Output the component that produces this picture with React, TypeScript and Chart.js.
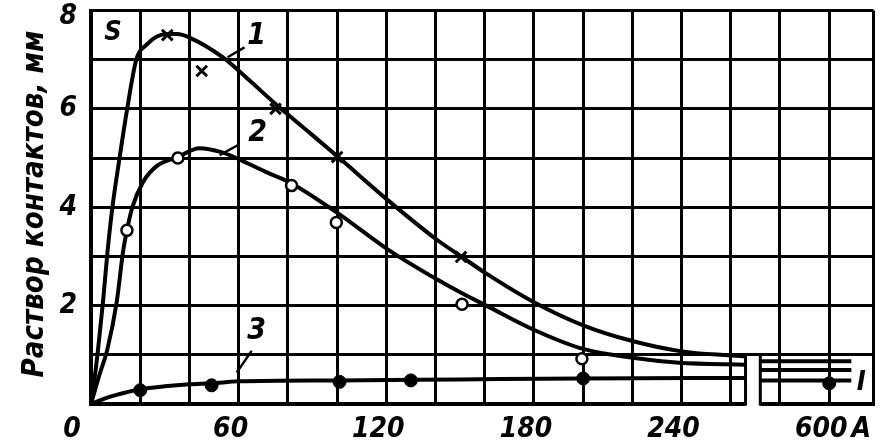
import React, { useEffect, useRef } from "react";
import { Chart, registerables } from "chart.js";

Chart.register(...registerables);

// ---- data (current in A, contact gap in mm) ----
const curve1A = [0, 1.2, 2.8, 4.9, 6.7, 8.7, 11.6, 14.7, 18.4, 22.7, 26.8, 31, 35, 40, 53.5, 65, 75, 88, 100, 120, 140, 150.4, 161, 180, 200, 220, 240, 259, 266, 572, 609];
const curve1Mm = [0, 0.42, 1.08, 2.09, 3.09, 4.0, 5.0, 6.0, 7.0, 7.31, 7.47, 7.52, 7.52, 7.45, 7.05, 6.55, 6.1, 5.55, 5.04, 4.17, 3.36, 3.0, 2.64, 2.07, 1.6, 1.28, 1.07, 0.99, 0.97, 0.87, 0.87];

const curve2A = [0, 3.6, 6.5, 10.5, 13, 14.6, 16.8, 21, 26.8, 35.3, 44, 53, 60, 71, 81, 99.7, 120.4, 140.7, 150.8, 161, 180.8, 200, 220, 239, 266, 572, 609];
const curve2Mm = [0, 0.62, 1.08, 2.09, 3.09, 3.53, 4.0, 4.5, 4.84, 5.02, 5.2, 5.12, 4.98, 4.72, 4.5, 3.9, 3.15, 2.53, 2.25, 1.99, 1.49, 1.12, 0.94, 0.84, 0.8, 0.69, 0.69];

const curve3A = [0, 5, 10, 20, 30, 40, 49, 60, 100, 150, 200, 266, 572, 609];
const curve3Mm = [0, 0.1, 0.18, 0.3, 0.36, 0.4, 0.42, 0.46, 0.48, 0.5, 0.52, 0.53, 0.48, 0.48];

const cross1A = [31, 45, 75, 100, 150.4];
const cross1Mm = [7.5, 6.77, 6.0, 5.02, 2.99];

const ring2A = [14.6, 35.3, 81.5, 99.7, 150.8, 199.5];
const ring2Mm = [3.53, 5.0, 4.44, 3.69, 2.03, 0.92];

const dot3A = [20, 49, 101, 130, 200, 600];
const dot3Mm = [0.28, 0.38, 0.45, 0.48, 0.52, 0.42];

const xGridA = [0, 20, 40, 60, 80, 100, 120, 140, 160, 180, 200, 220, 240, 260, 580, 600];
const xTickA = [60, 120, 180, 240, 600];
const xTickLabels = ["60", "120", "180", "240", "600"];
const xUnit = "A";
const yTickMm = [2, 4, 6, 8];
const yTitle = "Раствор контактов, мм";

// axis break: 270 A ... 570 A is cut out
const BREAK_FROM = 270;
const BREAK_SHIFT = 300;
const X_MAX_A = 618;
const toAxis = (a: number) => (a > BREAK_FROM ? a - BREAK_SHIFT : a);

const FONT = "'DejaVu Sans Condensed', 'DejaVu Sans', sans-serif";

function linePoints(xs: number[], ys: number[]) {
  const pts: { x: number; y: number | null }[] = [];
  for (let i = 0; i < xs.length; i++) {
    if (i > 0 && xs[i - 1] <= BREAK_FROM && xs[i] > BREAK_FROM) {
      pts.push({ x: 269, y: null });
    }
    pts.push({ x: toAxis(xs[i]), y: ys[i] });
  }
  return pts;
}
function markPoints(xs: number[], ys: number[]) {
  return xs.map((x, i) => ({ x: toAxis(x), y: ys[i] }));
}

const decor = {
  id: "decor",
  afterDraw(chart: any) {
    const ctx = chart.ctx as CanvasRenderingContext2D;
    const xs = chart.scales.x;
    const ys = chart.scales.y;
    const px = (a: number) => xs.getPixelForValue(toAxis(a));
    const py = (v: number) => ys.getPixelForValue(v);
    ctx.save();

    // axis break box
    const bl = xs.getPixelForValue(266);
    const br = xs.getPixelForValue(272);
    const top = py(1);
    const bot = py(0);
    ctx.fillStyle = "#fff";
    ctx.fillRect(bl, top + 1.5, br - bl, bot - top + 4);
    ctx.strokeStyle = "#000";
    ctx.lineWidth = 3;
    ctx.beginPath();
    ctx.moveTo(bl, top);
    ctx.lineTo(bl, bot + 1.5);
    ctx.moveTo(br, top);
    ctx.lineTo(br, bot + 1.5);
    ctx.stroke();

    // leader lines
    ctx.lineWidth = 2.5;
    ctx.beginPath();
    ctx.moveTo(px(55.5), py(7.05));
    ctx.lineTo(px(62.4), py(7.25));
    ctx.moveTo(px(52.3), py(5.06));
    ctx.lineTo(px(59.6), py(5.26));
    ctx.moveTo(px(65.3), py(1.08));
    ctx.lineTo(px(59.2), py(0.64));
    ctx.stroke();

    ctx.fillStyle = "#000";
    // curve labels
    ctx.textAlign = "center";
    ctx.textBaseline = "middle";
    ctx.font = `italic bold 30px ${FONT}`;
    ctx.fillText("1", px(67.3), py(7.47));
    ctx.fillText("2", px(67.7), py(5.5));
    ctx.fillText("3", px(67.3), py(1.47));
    ctx.font = `italic bold 27px ${FONT}`;
    ctx.fillText("S", px(8.9), py(7.55));
    ctx.fillText("I", px(613), py(0.42));

    // tick labels
    ctx.font = `italic bold 28px ${FONT}`;
    const xLabY = bot + 26;
    ctx.textAlign = "center";
    xTickA.forEach((a, i) => {
      ctx.fillText(xTickLabels[i], px(a) - 8, xLabY);
    });
    const w600 = ctx.measureText(xTickLabels[xTickLabels.length - 1]).width;
    ctx.textAlign = "left";
    ctx.fillText(xUnit, px(600) - 8 + w600 / 2 + 4, xLabY);
    ctx.textAlign = "center";
    ctx.fillText("0", px(0) - 19, xLabY);
    ctx.textAlign = "right";
    yTickMm.forEach((v) => {
      ctx.fillText(String(v), px(0) - 14, Math.max(py(v), 17));
    });

    // y title
    ctx.font = `italic bold 30px ${FONT}`;
    const tw = ctx.measureText(yTitle).width;
    const target = 347;
    ctx.translate(43, 204);
    ctx.rotate(-Math.PI / 2);
    ctx.scale(target / tw, 1);
    ctx.textAlign = "center";
    ctx.textBaseline = "alphabetic";
    ctx.fillText(yTitle, 0, 0);
    ctx.restore();
  },
};

export default function App() {
  const ref = useRef<HTMLCanvasElement>(null);
  useEffect(() => {
    document.body.style.margin = "0";
    const canvas = ref.current!;
    const lineDs = (xs: number[], ys: number[]) => ({
      data: linePoints(xs, ys),
      borderColor: "#000",
      borderWidth: 4,
      pointRadius: 0,
      fill: false,
      spanGaps: false,
      cubicInterpolationMode: "monotone" as const,
    });
    const chart = new Chart(canvas, {
      type: "line",
      data: {
        datasets: [
          {
            data: markPoints(cross1A, cross1Mm),
            showLine: false,
            pointStyle: "crossRot",
            pointRadius: 7.5,
            pointBorderWidth: 3,
            pointBorderColor: "#000",
            pointBackgroundColor: "#000",
          } as any,
          {
            data: markPoints(ring2A, ring2Mm),
            showLine: false,
            pointStyle: "circle",
            pointRadius: 5.5,
            pointBorderWidth: 2.5,
            pointBorderColor: "#000",
            pointBackgroundColor: "#fff",
          },
          {
            data: markPoints(dot3A, dot3Mm),
            showLine: false,
            pointStyle: "circle",
            pointRadius: 6.5,
            pointBorderWidth: 1,
            pointBorderColor: "#000",
            pointBackgroundColor: "#000",
          },
          lineDs(curve1A, curve1Mm),
          lineDs(curve2A, curve2Mm),
          lineDs(curve3A, curve3Mm),
        ],
      },
      options: {
        responsive: false,
        animation: false,
        layout: { padding: { top: 5, right: 7, left: 0, bottom: 0 } },
        plugins: { legend: { display: false }, tooltip: { enabled: false } },
        scales: {
          x: {
            type: "linear",
            min: 0,
            max: toAxis(X_MAX_A),
            afterBuildTicks: (s: any) => {
              s.ticks = xGridA.map((a) => ({ value: toAxis(a) })).concat([{ value: toAxis(X_MAX_A) }]);
            },
            afterFit: (s: any) => {
              s.height = 44;
            },
            ticks: { display: false },
            grid: { color: "#000", lineWidth: 3, drawTicks: false },
            border: { display: true, color: "#000", width: 4 },
          },
          y: {
            type: "linear",
            min: 0,
            max: 8,
            ticks: { display: false, stepSize: 1 },
            afterFit: (s: any) => {
              s.width = 91;
            },
            grid: { color: "#000", lineWidth: 3, drawTicks: false },
            border: { display: true, color: "#000", width: 4 },
          },
        },
      },
      plugins: [decor],
    });
    return () => chart.destroy();
  }, []);
  return (
    <div style={{ width: 884, height: 448, background: "#fff" }}>
      <canvas ref={ref} width={884} height={448} style={{ display: "block" }} />
    </div>
  );
}
